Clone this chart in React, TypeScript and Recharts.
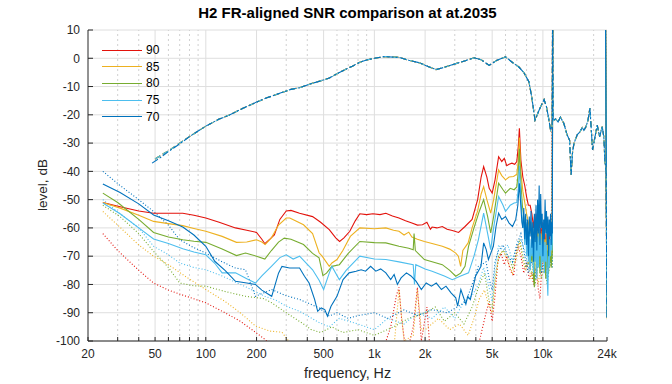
import React from "react";
import { LineChart, Line, XAxis, YAxis, CartesianGrid, ReferenceLine } from "recharts";

const FONT = "'Liberation Sans', Arial, Helvetica, sans-serif";

const xTicks = [20, 50, 100, 200, 500, 1000, 2000, 5000, 10000, 24000];
const xTickLabels = ["20", "50", "100", "200", "500", "1k", "2k", "5k", "10k", "24k"];
const xMinor = [30, 40, 60, 70, 80, 90, 300, 400, 600, 700, 800, 900, 3000, 4000, 6000, 7000, 8000, 9000, 20000];
const xMajorGrid = [50, 100, 200, 500, 1000, 2000, 5000, 10000];
const yTicks = [-100, -90, -80, -70, -60, -50, -40, -30, -20, -10, 0, 10];

const seriesNames = ["90", "85", "80", "75", "70"];
const seriesColors = ["#e3120b", "#edb120", "#77ac30", "#4dbeee", "#0072bd"];

// frequency response (aligned), blue copy
const fr70 = [
  [48, -37.1], [53, -35.4], [60, -33], [70, -30.3], [80, -27.7], [100, -24], [120, -21.5], [138, -20.1],
  [166, -17.7], [200, -15.5], [230, -14], [274, -12.4], [320, -11], [360, -10.4], [420, -9], [480, -8],
  [540, -7], [600, -5.5], [660, -4.2], [740, -2.8], [820, -1.4], [900, -0.6], [1000, 0], [1150, 0.6],
  [1300, 0.4], [1410, 0.3], [1600, -0.7], [1850, -1.6], [2100, -3], [2320, -4], [2600, -3.2], [3040, -1.9],
  [3500, -0.8], [3900, 0.2], [4300, -0.5], [4800, -2.5], [5300, -0.8], [6000, 0.5], [6600, -1.5],
  [7200, -3.1], [7700, -5], [8270, -8.4], [8600, -14], [8980, -21.9], [9500, -18.3], [10160, -14.6],
  [10500, -17.2], [10800, -21], [11100, -25.4], [11350, -24], [11420, 20], [11500, -22], [11900, -21.5],
  [12300, -22.5], [12700, -20.8], [13300, -23], [13900, -27], [14400, -29], [14700, -41.2], [15000, -33],
  [15300, -30], [16000, -27], [16600, -26], [17100, -24.5], [17500, -25.5], [18000, -24.2], [18500, -22],
  [19000, -17.6], [19400, -26], [19700, -32.4], [20200, -29], [21000, -23.6], [21400, -26], [21700, -27.7],
  [22500, -24.2], [23000, -28], [23300, -36], [23700, -40], [24000, -92.4],
];
// frequency response copies for 90/85/80/75 (differ only at the low end)
const frOthers = [
  [50, -35.6], [56, -33.8], [62, -32.2], [70, -30], [80, -27.7], [100, -24], [120, -21.5], [138, -20.1],
  [166, -17.7], [200, -15.5], [230, -14], [274, -12.4], [320, -11], [360, -10.4], [420, -9], [480, -8],
  [540, -7], [600, -5.5], [660, -4.2], [740, -2.8], [820, -1.4], [900, -0.6], [1000, 0], [1150, 0.6],
  [1300, 0.4], [1410, 0.3], [1600, -0.7], [1850, -1.6], [2100, -3], [2320, -4], [2600, -3.2], [3040, -1.9],
  [3500, -0.8], [3900, 0.2], [4300, -0.5], [4800, -2.5], [5300, -0.8], [6000, 0.5], [6600, -1.5],
  [7200, -3.1], [7700, -5], [8270, -8.4], [8600, -14], [8980, -21.9], [9500, -18.3], [10160, -14.6],
  [10500, -17.2], [10800, -21], [11100, -25.4], [11350, -24], [11420, 20], [11500, -22], [11900, -21.5],
  [12300, -22.5], [12700, -20.8], [13300, -23], [13900, -27], [14400, -29], [14700, -41.2], [15000, -33],
  [15300, -30], [16000, -27], [16600, -26], [17100, -24.5], [17500, -25.5], [18000, -24.2], [18500, -22],
  [19000, -17.6], [19400, -26], [19700, -32.4], [20200, -29], [21000, -23.6], [21400, -26], [21700, -27.7],
  [22500, -24.2], [23000, -28], [23300, -36], [23700, -40], [24000, -92.4],
];

// noise levels (solid)
const noise90 = [
  [24.5, -51], [31, -52.5], [40, -54], [49, -54.8], [60, -54.8], [73, -54.8], [85, -55.5], [100, -56.5],
  [120, -58], [150, -60], [175, -60.8], [200, -61.6], [215, -64], [224, -65.6], [240, -64], [255, -62.5],
  [275, -57], [300, -54], [320, -53.8], [360, -54.8], [430, -56], [480, -58], [540, -60.6], [590, -63.5],
  [622, -64.8], [660, -63.5], [715, -61.2], [770, -57.5], [820, -55], [900, -55.3], [980, -55], [1080, -55.3],
  [1170, -54.8], [1280, -55.8], [1400, -56.5], [1530, -57.5], [1670, -58.3], [1800, -59], [1930, -58.9],
  [2050, -58], [2150, -60.5], [2200, -59.7], [2350, -60], [2530, -59.5], [2700, -60.5], [2900, -60.9],
  [3160, -61.6], [3450, -59.5], [3800, -57], [4100, -50], [4300, -42], [4450, -38.3], [4650, -42],
  [4800, -46], [5000, -47.7], [5200, -43], [5460, -34.8], [5700, -36.5], [5900, -35.4], [6100, -38],
  [6300, -37.5], [6550, -37.1], [6800, -37.5], [7000, -36.5], [7150, -31], [7250, -24.8], [7400, -36],
  [7600, -42], [7800, -45], [8000, -49], [8200, -52], [8400, -52], [8600, -55], [8800, -60], [8900, -56],
  [9000, -62], [9100, -55], [9200, -66], [9300, -58], [9400, -64], [9500, -56], [9600, -70], [9700, -60],
  [9800, -66], [9900, -58], [10000, -68], [10100, -60], [10200, -72], [10300, -62], [10400, -68],
  [10500, -64], [10600, -74], [10700, -64], [10800, -70], [10900, -62], [11000, -68], [11100, -64],
  [11200, -70], [11300, -62], [11380, -60], [11420, 20], [23500, 20], [24000, -90],
];
const noise85 = [
  [24.5, -51], [31, -53], [40, -55.5], [49, -57.7], [60, -58.5], [73, -59.2], [85, -60.2], [100, -61.2],
  [125, -63], [152, -65.1], [175, -65], [200, -64.2], [215, -65], [225, -65.9], [245, -63.5], [270, -59],
  [300, -56.5], [315, -56.5], [340, -57.5], [380, -58.9], [430, -62], [470, -68.8], [490, -70], [540, -73.6],
  [560, -72.4], [600, -71.2], [650, -68], [720, -63], [820, -60], [1000, -60.3], [1170, -60], [1300, -60.8],
  [1400, -61.2], [1500, -62.5], [1600, -61.5], [1670, -63.2], [1800, -64], [1980, -64.8], [2200, -65.5],
  [2530, -66.5], [2800, -67.5], [3040, -68.9], [3150, -70], [3250, -73.6], [3350, -68], [3600, -65.3],
  [3800, -60], [4100, -54], [4300, -48], [4450, -45.4], [4650, -50], [4900, -54.8], [5100, -50],
  [5460, -39.5], [5700, -41.5], [6000, -43], [6300, -42], [6700, -41.8], [7000, -41], [7150, -36],
  [7250, -28], [7400, -40], [7600, -47], [7800, -51], [8000, -55], [8200, -58], [8400, -62], [8500, -58],
  [8600, -64], [8700, -60], [8800, -68], [8900, -60], [9000, -66], [9100, -62], [9200, -70], [9300, -61],
  [9400, -67], [9500, -60], [9600, -72], [9700, -62], [9800, -68], [9900, -61], [10000, -70], [10100, -63],
  [10200, -73], [10300, -64], [10400, -70], [10500, -62], [10600, -72], [10700, -66], [10800, -74],
  [10900, -64], [11000, -70], [11100, -65], [11200, -71], [11300, -64], [11380, -66], [11420, 20],
  [23500, 20], [24000, -90],
];
const noise80 = [
  [24.5, -47.7], [30, -51], [40, -57], [49, -61.6], [60, -63.2], [73, -64.2], [85, -64.7], [100, -65.1],
  [125, -67.5], [152, -69.8], [172, -68.9], [200, -70], [224, -71], [245, -68], [270, -65], [292, -63.6],
  [320, -64], [380, -65.9], [430, -69], [470, -70.6], [495, -76.9], [520, -76], [560, -73.6], [620, -73],
  [700, -69], [820, -64.8], [1000, -65.2], [1170, -65.3], [1400, -66.5], [1600, -67.2], [1700, -67.7],
  [1720, -62], [1750, -68], [1980, -71.2], [2200, -72], [2530, -73], [2800, -75], [3040, -77.1],
  [3250, -76], [3450, -73.6], [3620, -66.5], [3900, -60], [4200, -54], [4450, -50], [4700, -56],
  [4900, -61.8], [5100, -56], [5460, -44.2], [5800, -46.5], [6000, -47.7], [6400, -46], [6750, -46.5],
  [7000, -45.5], [7150, -40], [7250, -32], [7400, -44], [7550, -52], [7700, -56], [7800, -62], [7900, -58],
  [8000, -66], [8100, -60], [8200, -70], [8300, -64], [8400, -74], [8500, -68], [8600, -72], [8700, -64],
  [8800, -78], [8900, -81], [9000, -68], [9100, -63], [9200, -74], [9300, -66], [9400, -72], [9500, -62],
  [9600, -76], [9700, -63], [9800, -74], [9900, -66], [10000, -72], [10100, -64], [10200, -70],
  [10300, -68], [10400, -78], [10500, -66], [10600, -74], [10700, -68], [10800, -76], [10900, -66],
  [11000, -72], [11100, -68], [11200, -74], [11300, -70], [11380, -68], [11420, 20], [23500, 20], [24000, -90],
];
const noise75 = [
  [24.5, -51.2], [31, -55], [40, -60], [49, -63.9], [60, -65.5], [73, -67.4], [85, -68.5], [100, -69.5],
  [113, -72.5], [125, -75.9], [150, -75.9], [175, -78], [197, -79.5], [215, -77], [245, -73.6], [275, -70.5],
  [300, -69.5], [330, -71], [360, -70], [430, -74.8], [470, -78.5], [500, -81.8], [540, -76], [560, -73.6],
  [620, -78.3], [680, -75], [820, -70], [1000, -71], [1170, -71.2], [1400, -72], [1700, -73], [1730, -80],
  [1760, -73], [2000, -74.5], [2200, -75.3], [2600, -77], [2900, -78.3], [3250, -77], [3620, -75.9],
  [3900, -70], [4140, -64.2], [4450, -54.8], [4700, -62], [4900, -67.7], [5100, -60], [5460, -48.9],
  [5800, -52], [6000, -54.2], [6400, -52], [6750, -51.2], [7000, -51], [7150, -46], [7250, -38], [7400, -49],
  [7500, -55], [7600, -60], [7700, -56], [7800, -66], [7900, -58], [8000, -70], [8100, -60], [8200, -72],
  [8300, -62], [8400, -75], [8500, -64], [8600, -70], [8700, -62], [8800, -76], [8900, -64], [9000, -72],
  [9100, -60], [9200, -78], [9300, -63], [9400, -74], [9500, -60], [9600, -70], [9700, -62], [9800, -75],
  [9900, -64], [10000, -72], [10100, -63], [10200, -76], [10300, -65], [10400, -72], [10500, -66],
  [10600, -78], [10700, -84], [10800, -68], [10900, -74], [11000, -64], [11100, -70], [11200, -62],
  [11300, -68], [11380, -65], [11420, 20], [23500, 20], [24000, -90],
];
const noise70 = [
  [24.5, -44.5], [31, -47.5], [40, -51.5], [49, -55.4], [60, -57.5], [73, -59.7], [85, -62.5], [100, -66.5],
  [113, -71.8], [130, -75], [150, -78.9], [175, -79.5], [197, -80], [215, -82], [246, -84.2], [270, -76],
  [283, -73.6], [314, -74.2], [360, -74.2], [385, -77.1], [410, -79.5], [442, -85.3], [461, -89.5],
  [484, -88.3], [508, -88.9], [527, -91.2], [553, -87.7], [600, -84.2], [652, -78.3], [708, -75.9],
  [779, -75.3], [835, -74.8], [887, -75.3], [950, -73.6], [1020, -75.3], [1090, -74.5], [1170, -75.9],
  [1250, -78.3], [1310, -76.5], [1370, -80], [1440, -77.7], [1550, -75.9], [1650, -77], [1770, -78.9],
  [1900, -81.8], [2030, -79.5], [2180, -80.6], [2330, -79.5], [2500, -81.8], [2660, -80.6], [2850, -83],
  [3040, -84.7], [3120, -87.7], [3260, -81.8], [3490, -87], [3580, -84.2], [3710, -85.3], [3990, -77],
  [4290, -73.6], [4450, -65.3], [4610, -67.7], [4750, -71.2], [5080, -66.5], [5270, -59.5], [5460, -54.8],
  [5700, -57], [6000, -56], [6300, -58.3], [6600, -59.5], [6900, -57], [7100, -52], [7250, -44.2],
  [7400, -52.4], [7500, -58], [7600, -60], [7700, -53], [7800, -64], [7900, -55], [8000, -66], [8100, -57],
  [8200, -70], [8300, -56], [8400, -63], [8500, -54], [8600, -67], [8700, -58], [8800, -72], [8900, -55],
  [9000, -65], [9100, -52], [9200, -68], [9300, -50], [9400, -62], [9500, -45], [9600, -66], [9700, -48],
  [9800, -60], [9900, -55], [10000, -70], [10100, -57], [10200, -64], [10300, -50], [10400, -62],
  [10500, -54], [10600, -66], [10700, -56], [10800, -70], [10900, -57], [11000, -63], [11100, -55],
  [11200, -66], [11300, -58], [11380, -62], [11420, 20], [23500, 20], [24000, -90],
];

// reference noise (dotted)
const ref90 = [
  [24.5, -62], [30, -68], [40, -75], [49, -79.5], [60, -82], [75, -84], [100, -86.5], [130, -90], [160, -93],
  [197, -96.9], [224, -99.4], [260, -103], [1100, -105], [1250, -95], [1350, -84], [1400, -81], [1450, -92],
  [1550, -105], [1700, -95], [1800, -81], [1900, -100], [2050, -88], [2150, -105], [3800, -105], [4200, -100],
  [4600, -90], [4800, -86], [5000, -93], [5200, -84], [5400, -72], [5650, -69], [5900, -73], [6100, -70],
  [6400, -75], [6700, -77], [6900, -70], [7100, -66], [7400, -70], [7700, -76], [8000, -72], [8300, -78],
  [8600, -76], [8800, -80], [9100, -74], [9400, -82], [9600, -85], [9800, -76], [10000, -72], [10300, -70],
  [10600, -75], [10900, -68], [11200, -72], [11420, 20], [23500, 20], [24000, -92],
];
const ref85 = [
  [24.5, -54.2], [30, -59], [40, -66], [49, -70], [60, -73], [75, -77], [100, -81.8], [130, -86], [160, -90],
  [197, -94.7], [240, -96.5], [283, -96.9], [310, -100], [400, -104], [1300, -104], [1400, -82], [1500, -100],
  [1700, -98], [1800, -82], [1900, -96], [2000, -96], [2400, -92], [2800, -96], [3200, -94], [3600, -98],
  [3900, -92], [4200, -85], [4500, -82], [4800, -88], [5000, -90], [5200, -80], [5460, -70], [5800, -68],
  [6200, -72], [6600, -76], [7000, -70], [7300, -65], [7600, -72], [7900, -75], [8200, -72], [8500, -78],
  [8800, -74], [9100, -70], [9400, -80], [9800, -72], [10200, -76], [10600, -70], [11000, -74], [11350, -70],
  [11420, 20], [23500, 20], [24000, -92],
];
const ref80 = [
  [24.5, -52], [31, -56], [40, -62], [49, -68.3], [60, -74], [70, -79.5], [85, -80.5], [100, -80.6],
  [130, -82.5], [172, -84.2], [220, -85], [246, -86.5], [300, -90], [380, -94], [420, -95.9], [480, -97],
  [560, -95], [650, -97], [800, -96], [1000, -98], [1300, -95], [1600, -92], [2000, -90], [2300, -88],
  [2600, -93], [3000, -90], [3400, -94], [3800, -88], [4200, -80], [4500, -76], [4800, -86], [5000, -88],
  [5200, -78], [5460, -70], [5800, -68], [6200, -70], [6600, -74], [7000, -68], [7300, -64], [7600, -70],
  [7900, -74], [8200, -72], [8600, -76], [9000, -80], [9400, -72], [9800, -78], [10200, -74], [10600, -80],
  [11000, -72], [11350, -74], [11420, 20], [23500, 20], [24000, -92],
];
const ref75 = [
  [24.5, -50], [31, -55], [40, -60], [49, -66.5], [60, -69.5], [70, -72.4], [85, -74], [100, -74.8],
  [125, -77], [150, -79.2], [175, -81], [224, -84.2], [260, -85.5], [300, -87.7], [360, -89.5], [471, -93.5],
  [540, -95], [620, -92], [800, -94], [1000, -96], [1200, -92], [1500, -94], [1800, -90], [2200, -92],
  [2600, -88], [3000, -92], [3400, -86], [3800, -84], [4140, -80], [4450, -74], [4750, -80], [5000, -86],
  [5200, -74], [5460, -66], [5800, -68], [6200, -66], [6600, -72], [7000, -66], [7400, -64], [7800, -68],
  [8200, -74], [8600, -70], [9000, -76], [9400, -68], [9800, -74], [10200, -70], [10600, -76], [11000, -70],
  [11350, -72], [11420, 20], [23500, 20], [24000, -92],
];
const ref70 = [
  [24.5, -40], [31, -45], [40, -50], [49, -54.2], [60, -59], [70, -64.2], [85, -67], [100, -68.9],
  [125, -72], [150, -74.2], [172, -74.8], [197, -84.2], [246, -81.8], [300, -84], [360, -85.3], [471, -88.3],
  [540, -91.2], [600, -90], [700, -92], [800, -91], [1000, -90], [1200, -92], [1500, -89], [1800, -91],
  [2200, -88.9], [2700, -90], [3160, -87.7], [3500, -86], [3800, -80], [4140, -73.6], [4600, -72],
  [4800, -78], [5000, -82], [5200, -72], [5460, -68], [5800, -66], [6200, -70], [6600, -72], [7000, -66],
  [7400, -62], [7800, -70], [8200, -76], [8600, -72], [9000, -78], [9400, -70], [9800, -76], [10200, -72],
  [10600, -78], [11000, -72], [11350, -74], [11420, 20], [23500, 20], [24000, -92],
];

const toPts = (arr: number[][]) => arr.map(([f, v]) => ({ f, v }));

const noiseSets = [noise90, noise85, noise80, noise75, noise70];
const refSets = [ref90, ref85, ref80, ref75, ref70];
const frSets = [frOthers, frOthers, frOthers, frOthers, fr70];

const AXIS = "#262626";
const allXTicks = [...xTicks, ...xMinor].sort((a, b) => a - b);

export default function App() {
  const fmtX = (v: number) => {
    const i = xTicks.indexOf(v);
    return i >= 0 ? xTickLabels[i] : "";
  };
  const blank = () => "";
  return (
    <div style={{ position: "absolute", left: 0, top: 0, width: 672, height: 384, background: "#fff", fontFamily: FONT }}>
      <LineChart width={672} height={384} margin={{ top: 30, right: 65, bottom: 0, left: 0 }}>
        <CartesianGrid vertical={false} stroke="#dedede" strokeWidth={1} />
        {xMinor.map((f) => (
          <ReferenceLine key={"mi" + f} x={f} stroke="#d0d0d0" strokeDasharray="2 3" strokeWidth={1} />
        ))}
        {xMajorGrid.map((f) => (
          <ReferenceLine key={"ma" + f} x={f} stroke="#dedede" strokeWidth={1} />
        ))}
        <XAxis
          dataKey="f"
          type="number"
          scale="log"
          domain={[20, 24000]}
          ticks={allXTicks}
          interval={0}
          tickFormatter={fmtX}
          allowDataOverflow
          height={43}
          tickSize={-4}
          tickMargin={12}
          tickLine={{ stroke: AXIS }}
          axisLine={{ stroke: AXIS }}
          tick={{ fill: AXIS, fontSize: 12, fontFamily: FONT }}
        />
        <XAxis
          xAxisId="top"
          orientation="top"
          type="number"
          scale="log"
          domain={[20, 24000]}
          ticks={allXTicks}
          interval={0}
          height={0}
          tickSize={-4}
          tickFormatter={blank}
          tickLine={{ stroke: AXIS }}
          axisLine={{ stroke: AXIS }}
        />
        <YAxis
          type="number"
          domain={[-100, 10]}
          ticks={yTicks}
          interval={0}
          allowDataOverflow
          width={88}
          tickSize={-5}
          tickMargin={13}
          tickLine={{ stroke: AXIS }}
          axisLine={{ stroke: AXIS }}
          tick={{ fill: AXIS, fontSize: 12, fontFamily: FONT }}
        />
        <YAxis
          yAxisId="right"
          orientation="right"
          type="number"
          domain={[-100, 10]}
          ticks={yTicks}
          interval={0}
          width={0}
          tickSize={-5}
          tickFormatter={blank}
          tickLine={{ stroke: AXIS }}
          axisLine={{ stroke: AXIS }}
        />
        {refSets.map((s, i) => (
          <Line key={"ref" + i} data={toPts(s)} dataKey="v" stroke={seriesColors[i]} strokeWidth={1.1} strokeDasharray="1 2" dot={false} activeDot={false} isAnimationActive={false} />
        ))}
        {noiseSets.map((s, i) => (
          <Line key={"n" + i} data={toPts(s)} dataKey="v" stroke={seriesColors[i]} strokeWidth={1.1} dot={false} activeDot={false} isAnimationActive={false} />
        ))}
        {frSets.map((s, i) => (
          <Line key={"fr" + i} data={toPts(s)} dataKey="v" stroke={seriesColors[i]} strokeWidth={1.1} strokeDasharray={i === 4 ? "7 2 2 2" : "6 3"} dot={false} activeDot={false} isAnimationActive={false} />
        ))}
      </LineChart>
      <div style={{ position: "absolute", left: 0, width: 695, top: 4, textAlign: "center", fontWeight: "bold", fontSize: 15, color: "#000" }}>
        H2 FR-aligned SNR comparison at at.2035
      </div>
      <div style={{ position: "absolute", left: 0, width: 695, top: 365, textAlign: "center", fontSize: 14.3, color: AXIS }}>
        frequency, Hz
      </div>
      <div style={{ position: "absolute", left: 42, top: 185, width: 0, height: 0 }}>
        <div style={{ position: "absolute", transform: "translate(-50%, -50%) rotate(-90deg)", whiteSpace: "nowrap", fontSize: 13.5, color: AXIS }}>
          level, dB
        </div>
      </div>
      <div style={{ position: "absolute", left: 102, top: 42 }}>
        {seriesNames.map((n, i) => (
          <div key={n} style={{ display: "flex", alignItems: "center", height: 16.6 }}>
            <div style={{ width: 40, height: 1, background: seriesColors[i] }} />
            <div style={{ marginLeft: 4, fontSize: 12, color: "#000", lineHeight: "16px" }}>{n}</div>
          </div>
        ))}
      </div>
    </div>
  );
}
